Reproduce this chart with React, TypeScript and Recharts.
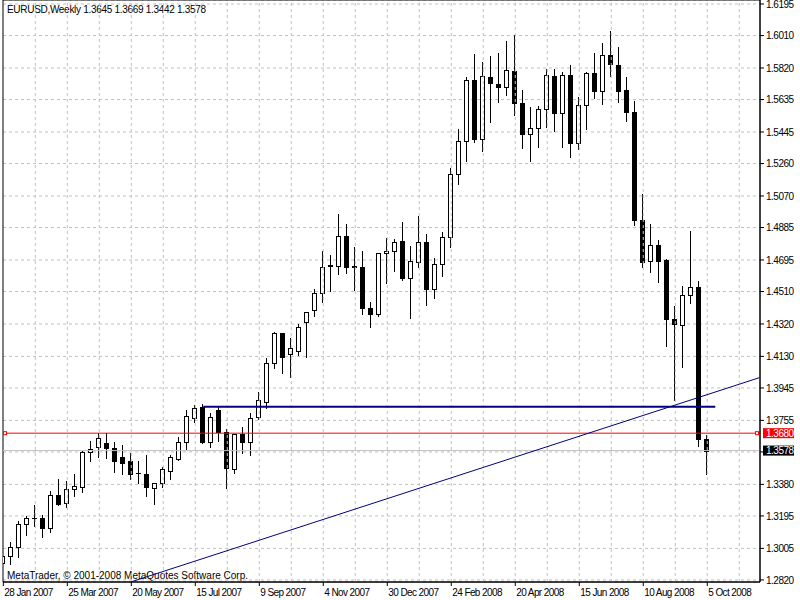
import {
  Bar,
  CartesianGrid,
  ComposedChart,
  ReferenceArea,
  ReferenceLine,
  XAxis,
  YAxis,
} from "recharts";

const FONT = "'Liberation Sans', Arial, sans-serif";

// weekly EURUSD bars, 28 Jan 2007 .. 5 Oct 2008 (index = week number)
const opens = [
  1.2918, 1.296, 1.3011, 1.3146, 1.3181, 1.3181, 1.3123, 1.3316, 1.3269, 1.3351,
  1.3366, 1.3568, 1.3597, 1.3621, 1.3591, 1.3539, 1.3517, 1.3447, 1.3439, 1.3357,
  1.3386, 1.346, 1.3529, 1.3627, 1.3771, 1.3832, 1.363, 1.3816, 1.3685, 1.3468,
  1.3675, 1.363, 1.3777, 1.3861, 1.409, 1.4265, 1.4142, 1.4163, 1.4333, 1.4402,
  1.45, 1.4663, 1.4661, 1.4835, 1.466, 1.4652, 1.4412, 1.4377, 1.4734, 1.4746,
  1.4806, 1.4591, 1.4685, 1.4799, 1.4523, 1.467, 1.4828, 1.5197, 1.539, 1.5748,
  1.5402, 1.5765, 1.5724, 1.5707, 1.5802, 1.5613, 1.5431, 1.5467, 1.5578, 1.5771,
  1.5554, 1.5777, 1.5379, 1.5601, 1.5789, 1.5687, 1.5894, 1.5836, 1.5689, 1.556,
  1.4929, 1.4687, 1.4781, 1.4693, 1.4349, 1.4312, 1.4488, 1.4535, 1.3645,
];
const highs = [
  1.3064, 1.3044, 1.3167, 1.3195, 1.3257, 1.3201, 1.3343, 1.341, 1.34, 1.3441,
  1.3575, 1.3632, 1.3679, 1.3679, 1.363, 1.3611, 1.3562, 1.3517, 1.3552, 1.339,
  1.348, 1.3552, 1.3656, 1.3816, 1.3847, 1.3851, 1.3796, 1.3832, 1.3704, 1.3675,
  1.3718, 1.3796, 1.3923, 1.4119, 1.4275, 1.4269, 1.4236, 1.432, 1.439, 1.4523,
  1.4748, 1.4724, 1.4964, 1.4906, 1.4773, 1.4748, 1.445, 1.4736, 1.4822, 1.4818,
  1.4917, 1.4777, 1.4953, 1.4847, 1.4705, 1.4859, 1.5232, 1.5463, 1.5765, 1.5902,
  1.5853, 1.589, 1.5906, 1.598, 1.6013, 1.5691, 1.559, 1.5597, 1.5814, 1.5814,
  1.5795, 1.5837, 1.5648, 1.5795, 1.5906, 1.5965, 1.6037, 1.5941, 1.5765, 1.5627,
  1.508, 1.4906, 1.4812, 1.47, 1.4425, 1.4542, 1.4865, 1.4572, 1.3669,
];
const lows = [
  1.2888, 1.2912, 1.2953, 1.3083, 1.3136, 1.307, 1.3103, 1.3257, 1.3249, 1.3314,
  1.3337, 1.3517, 1.3539, 1.3533, 1.3454, 1.3441, 1.341, 1.339, 1.3312, 1.3265,
  1.3366, 1.341, 1.3523, 1.3587, 1.3746, 1.3621, 1.3601, 1.3636, 1.3357, 1.3448,
  1.3562, 1.3552, 1.3761, 1.3826, 1.406, 1.4031, 1.4011, 1.4138, 1.4125, 1.4368,
  1.445, 1.4515, 1.4613, 1.462, 1.4519, 1.4377, 1.4304, 1.4367, 1.4562, 1.4632,
  1.4578, 1.4357, 1.4656, 1.4431, 1.4474, 1.4601, 1.4773, 1.5138, 1.5277, 1.5388,
  1.5335, 1.5505, 1.5622, 1.5662, 1.5545, 1.5353, 1.5277, 1.5359, 1.5476, 1.5453,
  1.5359, 1.5297, 1.5344, 1.5464, 1.5646, 1.5607, 1.5775, 1.5622, 1.5511, 1.4901,
  1.4656, 1.4626, 1.4568, 1.4193, 1.3874, 1.407, 1.4445, 1.3607, 1.3442,
];
const closes = [
  1.2962, 1.3011, 1.3146, 1.3181, 1.3183, 1.3123, 1.3316, 1.3267, 1.3351, 1.3369,
  1.3571, 1.3586, 1.365, 1.3591, 1.3519, 1.3504, 1.3439, 1.3444, 1.3366, 1.3386,
  1.3468, 1.3539, 1.3627, 1.3781, 1.3827, 1.3627, 1.3773, 1.3689, 1.3474, 1.3673,
  1.3627, 1.3767, 1.3874, 1.409, 1.4265, 1.4128, 1.4177, 1.43, 1.4388, 1.45,
  1.4652, 1.4657, 1.4835, 1.4656, 1.4654, 1.4412, 1.4377, 1.4734, 1.4748, 1.4799,
  1.4591, 1.4689, 1.4799, 1.4523, 1.467, 1.4828, 1.5197, 1.539, 1.5748, 1.5402,
  1.5771, 1.573, 1.5707, 1.5806, 1.5613, 1.5431, 1.5467, 1.5578, 1.5777, 1.5554,
  1.5777, 1.5379, 1.5601, 1.5789, 1.5687, 1.5894, 1.5842, 1.5687, 1.5564, 1.4931,
  1.4685, 1.4781, 1.4691, 1.4351, 1.4318, 1.4488, 1.4535, 1.3644, 1.3578,
];

const dateTicks = [0, 8, 16, 24, 32, 40, 48, 56, 64, 72, 80, 88];
const dateLabels = [
  "28 Jan 2007", "25 Mar 2007", "20 May 2007", "15 Jul 2007", "9 Sep 2007", "4 Nov 2007",
  "30 Dec 2007", "24 Feb 2008", "20 Apr 2008", "15 Jun 2008", "10 Aug 2008", "5 Oct 2008",
];
const gridWeeks = [4, 8, 12, 16, 20, 24, 28, 32, 36, 40, 44, 48, 52, 56, 60, 64, 68, 72, 76, 80, 84, 88, 92];
const priceTicks = [
  1.6195, 1.601, 1.582, 1.5635, 1.5445, 1.526, 1.507, 1.4885, 1.4695, 1.451,
  1.432, 1.413, 1.3945, 1.3755, 1.357, 1.338, 1.3195, 1.3005, 1.282,
];

const weekDomain = [-0.04, 94.59];
const priceDomain = [1.28079, 1.62184];

const linePrice = 1.368;
const bidPrice = 1.3578;
const levelPrice = 1.3835;
const levelWeeks = [25, 89];
const trendWeeks = [16, 94.5];
const trendPrices = [1.2809, 1.4005];

const header = "EURUSD,Weekly  1.3645 1.3669 1.3442 1.3578";
const copyright = "MetaTrader, © 2001-2008 MetaQuotes Software Corp.";

const rows = opens.map((open, i) => ({
  week: i,
  open,
  high: highs[i],
  low: lows[i],
  close: closes[i],
  range: [lows[i], highs[i]],
}));

function Candle(props: any) {
  const { x, y, width, height, payload } = props;
  const { open, close, high, low } = payload;
  const top0 = Math.min(y, y + height);
  const span = Math.abs(height);
  const perUnit = span / (high - low);
  const yOf = (v: number) => top0 + (high - v) * perUnit;
  const cx = Math.floor(x + width / 2) + 0.5;
  const bodyTop = Math.round(yOf(Math.max(open, close))) + 0.5;
  const bodyBottom = Math.round(yOf(Math.min(open, close))) + 0.5;
  const up = close >= open;
  return (
    <g>
      <line x1={cx} x2={cx} y1={Math.round(yOf(high))} y2={Math.round(yOf(low)) + 1} stroke="#000" strokeWidth={1} />
      {bodyBottom - bodyTop < 1 ? (
        <line x1={cx - 2.5} x2={cx + 2.5} y1={bodyTop} y2={bodyTop} stroke="#000" strokeWidth={1} />
      ) : (
        <rect
          x={cx - 2}
          y={bodyTop}
          width={4}
          height={bodyBottom - bodyTop}
          fill={up ? "#fff" : "#000"}
          stroke="#000"
          strokeWidth={1}
        />
      )}
    </g>
  );
}

function DateTick(props: any) {
  const { x, y, payload } = props;
  const label = dateLabels[dateTicks.indexOf(payload.value)] ?? "";
  return (
    <text
      x={x + 1}
      y={y}
      dy="0.8em"
      textAnchor="start"
      fontSize={10}
      letterSpacing={-0.6}
      fontFamily={FONT}
      fill="#000"
    >
      {label}
    </text>
  );
}

function PriceTick(props: any) {
  const { x, y, payload } = props;
  if (payload.value === 1.357) return <g />;
  return (
    <text x={x} y={y} dy="0.36em" fontSize={10} letterSpacing={-0.5} fontFamily={FONT} fill="#000">
      {Number(payload.value).toFixed(4)}
    </text>
  );
}

function PriceTag(props: any) {
  const { viewBox, text, fill, markers, lineColor } = props;
  const { x, y, width } = viewBox;
  const right = x + width;
  return (
    <g>
      {markers && (
        <>
          <rect x={x + 0.5} y={y - 1.5} width={3} height={3} fill="#fff" stroke={lineColor} />
          <rect x={right - 4.5} y={y - 1.5} width={3} height={3} fill="#fff" stroke={lineColor} />
        </>
      )}
      <rect x={right + 3} y={y - 5} width={31} height={10} fill={fill} />
      <text x={right + 6} y={y} dy="0.36em" fontSize={10} letterSpacing={-0.5} fontFamily={FONT} fill="#fff">
        {text}
      </text>
    </g>
  );
}

function FrameText(props: any) {
  const { viewBox } = props;
  const { x, y, height } = viewBox;
  return (
    <g fontFamily={FONT} fontSize={10} fill="#000">
      <text x={x + 4} y={y + 9} dy="0.36em" letterSpacing={-0.3}>{header}</text>
      <text x={x + 4} y={y + height - 7} dy="0.36em">{copyright}</text>
    </g>
  );
}

export default function App() {
  return (
    <div style={{ position: "absolute", left: 0, top: 0, width: 800, height: 600, background: "#fff" }}>
      <ComposedChart
        width={800}
        height={600}
        data={rows}
        margin={{ top: 0, right: 0, left: 3, bottom: 0 }}
      >
        <CartesianGrid vertical={false} stroke="#c0c0c0" strokeDasharray="3 3" />
        {gridWeeks.map((w) => (
          <ReferenceLine key={w} x={w} stroke="#c0c0c0" strokeDasharray="3 3" />
        ))}
        <XAxis
          dataKey="week"
          type="number"
          domain={weekDomain}
          allowDataOverflow
          ticks={dateTicks}
          interval={0}
          height={18}
          tickSize={4}
          tickMargin={2}
          axisLine={{ stroke: "#000" }}
          tickLine={{ stroke: "#000" }}
          tick={(p: any) => <DateTick {...p} />}
        />
        <YAxis
          orientation="right"
          type="number"
          domain={priceDomain}
          allowDataOverflow
          ticks={priceTicks}
          interval={0}
          width={40}
          tickSize={4}
          tickMargin={2}
          axisLine={{ stroke: "#000" }}
          tickLine={{ stroke: "#000" }}
          tick={(p: any) => <PriceTick {...p} />}
        />
        <ReferenceArea
          x1={weekDomain[0]}
          x2={weekDomain[1]}
          y1={priceDomain[0]}
          y2={priceDomain[1]}
          fill="none"
          stroke="#000"
          ifOverflow="visible"
          label={<FrameText />}
        />
        <ReferenceLine
          y={bidPrice}
          stroke="#c0c0c0"
          label={<PriceTag text={bidPrice.toFixed(4)} fill="#000" />}
        />
        <Bar dataKey="range" barSize={5} shape={<Candle />} isAnimationActive={false} />
        <ReferenceLine
          y={linePrice}
          stroke="#ff0000"
          label={<PriceTag text={linePrice.toFixed(4)} fill="#ff0000" markers lineColor="#ff0000" />}
        />
        <ReferenceLine
          segment={[
            { x: levelWeeks[0], y: levelPrice },
            { x: levelWeeks[1], y: levelPrice },
          ]}
          stroke="#000080"
          strokeWidth={2}
        />
        <ReferenceLine
          segment={[
            { x: trendWeeks[0], y: trendPrices[0] },
            { x: trendWeeks[1], y: trendPrices[1] },
          ]}
          stroke="#000080"
          strokeWidth={1}
        />
      </ComposedChart>
    </div>
  );
}
